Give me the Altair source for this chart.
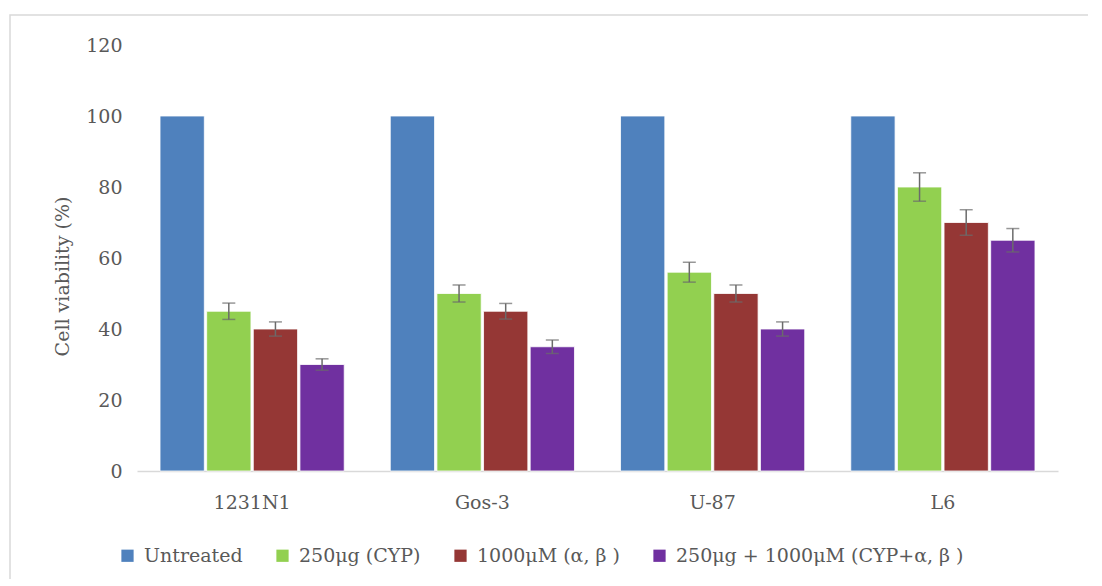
import altair as alt
import pandas as pd

cell_lines = ["1231N1", "Gos-3", "U-87", "L6"]
treatments = ["Untreated", "250μg (CYP)", "1000μM (α, β )", "250μg + 1000μM (CYP+α, β )"]
colors = ["#4f81bd", "#92d050", "#953735", "#7030a0"]

untreated = [100, 100, 100, 100]
cyp = [45, 50, 56, 80]
alpha_beta = [40, 45, 50, 70]
combo = [30, 35, 40, 65]

cyp_err = [2.3, 2.4, 2.8, 4.0]
alpha_beta_err = [2.0, 2.2, 2.4, 3.6]
combo_err = [1.6, 1.9, 2.0, 3.3]

y_ticks = [0, 20, 40, 60, 80, 100, 120]

series = [untreated, cyp, alpha_beta, combo]
errors = [None, cyp_err, alpha_beta_err, combo_err]

rows = []
for t, vals, errs in zip(treatments, series, errors):
    for i, c in enumerate(cell_lines):
        r = {"cell": c, "treatment": t, "value": vals[i]}
        if errs is not None:
            r["lo"] = vals[i] - errs[i]
            r["hi"] = vals[i] + errs[i]
        rows.append(r)
df = pd.DataFrame(rows)
err_df = df.dropna(subset=["lo"])

FONT = "DejaVu Serif"
TXT = "#595959"
FS = 19

x_enc = alt.X("cell:N", sort=cell_lines,
              scale=alt.Scale(paddingInner=0.2, paddingOuter=0.1),
              axis=alt.Axis(title=None, labelAngle=0, ticks=False, domainColor="#d9d9d9",
                            domainWidth=1.5, labelPadding=22, labelColor=TXT,
                            labelFont=FONT, labelFontSize=FS))
xo_enc = alt.XOffset("treatment:N", sort=treatments,
                     scale=alt.Scale(domain=treatments, paddingInner=0.05, paddingOuter=0))
y_scale = alt.Scale(domain=[0, 120], nice=False)

frame = alt.Chart(alt.Data(values=[{}])).mark_rect(
    filled=False, stroke="#d9d9d9", strokeWidth=1.5
).encode(x=alt.value(-127), x2=alt.value(3000), y=alt.value(-30), y2=alt.value(3000))

bars = alt.Chart(df).mark_bar(stroke="white", strokeWidth=0.8).encode(
    x=x_enc,
    xOffset=xo_enc,
    y=alt.Y("value:Q", scale=y_scale,
            axis=alt.Axis(values=y_ticks, grid=False, domain=False, ticks=False,
                          labelPadding=15, labelColor=TXT, labelFont=FONT, labelFontSize=FS,
                          title="Cell viability (%)", titleFont=FONT, titleFontSize=FS,
                          titleFontWeight="normal", titleColor=TXT, titleX=-75, titleY=231,
                          titleBaseline="middle", titleAlign="center", titleAngle=270)),
    color=alt.Color("treatment:N", sort=treatments,
                    scale=alt.Scale(domain=treatments, range=colors),
                    legend=alt.Legend(title=None, orient="none", legendX=-19, legendY=501,
                                      direction="horizontal", columns=4,
                                      symbolType="square", symbolSize=150,
                                      symbolStrokeWidth=0, labelFont=FONT,
                                      labelFontSize=FS, labelColor=TXT, labelLimit=0,
                                      labelOffset=7, columnPadding=30)),
)

err_rule = alt.Chart(err_df).mark_rule(color="#6b6b6b", strokeWidth=1.5).encode(
    x=alt.X("cell:N", sort=cell_lines), xOffset=xo_enc,
    y=alt.Y("lo:Q", scale=y_scale), y2="hi:Q",
)
cap_lo = alt.Chart(err_df).mark_tick(color="#6b6b6b", thickness=1.5, size=13).encode(
    x=alt.X("cell:N", sort=cell_lines), xOffset=xo_enc,
    y=alt.Y("lo:Q", scale=y_scale),
)
cap_hi = alt.Chart(err_df).mark_tick(color="#6b6b6b", thickness=1.5, size=13).encode(
    x=alt.X("cell:N", sort=cell_lines), xOffset=xo_enc,
    y=alt.Y("hi:Q", scale=y_scale),
)

chart = alt.layer(frame, bars, err_rule, cap_lo, cap_hi).properties(
    width=921, height=426,
    autosize=alt.AutoSizeParams(type="none"),
    padding={"left": 129, "top": 37, "right": 30, "bottom": 108},
    background="white",
).configure_view(strokeWidth=0, stroke="transparent")

chart.save("out.html", embed_options={"renderer": "svg", "actions": False})
